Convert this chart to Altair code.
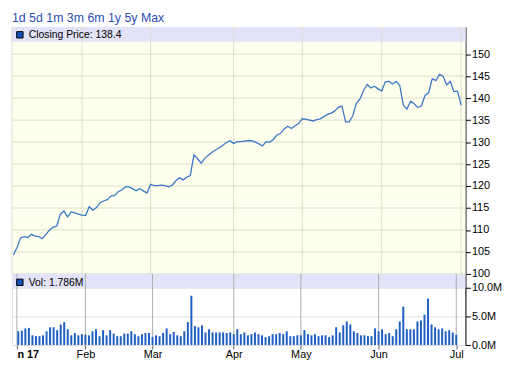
import altair as alt
import pandas as pd

# ---- data ----
price = [
    104.3, 106.0, 108.2, 108.5, 108.3, 109.0, 108.6, 108.5, 108.0, 109.0,
    110.0, 110.6, 110.9, 113.6, 114.3, 113.0, 114.1, 113.9, 113.6, 113.4,
    113.3, 115.3, 114.5, 115.1, 116.2, 116.6, 116.9, 117.7, 117.8, 118.7,
    119.1, 119.8, 119.8, 119.4, 118.9, 119.4, 118.9, 118.4, 120.4, 120.1,
    120.1, 120.2, 120.1, 119.8, 120.2, 121.2, 121.9, 121.4, 122.0, 122.4,
    127.1, 126.2, 125.2, 126.3, 127.0, 127.7, 128.2, 128.7, 129.3, 129.9,
    130.3, 129.7, 130.1, 130.1, 130.2, 130.3, 130.3, 130.0, 129.6, 129.1,
    130.1, 130.0, 130.6, 131.6, 132.0, 133.0, 133.6, 133.1, 133.7, 134.2,
    135.3, 135.2, 135.0, 134.8, 135.1, 135.3, 135.8, 136.3, 136.6, 137.1,
    137.9, 138.2, 134.6, 134.6, 136.0, 138.8, 139.8, 141.8, 143.1, 142.3,
    142.7, 142.1, 141.6, 143.7, 143.8, 143.2, 143.8, 142.9, 138.4, 137.5,
    139.3, 138.7, 137.9, 138.2, 140.6, 141.2, 144.4, 144.0, 145.4, 145.0,
    143.0, 143.8, 141.5, 141.6, 138.4,
]
volume_m = [
    2.4, 2.5, 2.9, 3.0, 1.7, 1.55, 1.55, 1.7, 2.4, 3.1,
    3.1, 2.6, 3.6, 4.0, 2.75, 1.7, 2.1, 1.7, 1.9, 1.8,
    1.7, 2.4, 2.75, 1.55, 2.6, 1.7, 2.6, 2.0, 1.55, 1.55,
    2.0, 2.0, 2.4, 1.9, 1.55, 1.9, 2.1, 2.1, 1.4, 1.7,
    1.55, 2.1, 2.9, 1.9, 2.3, 1.7, 1.55, 2.4, 4.0, 8.6,
    3.3, 3.1, 3.45, 2.2, 2.75, 2.2, 2.2, 2.2, 2.2, 2.1,
    2.2, 1.9, 2.75, 1.9, 2.2, 1.7, 1.9, 2.2, 1.9, 1.7,
    1.4, 1.55, 1.9, 1.9, 2.1, 1.9, 2.4, 1.55, 1.55, 1.7,
    1.7, 2.6, 1.9, 1.7, 1.9, 1.55, 1.7, 1.7, 1.4, 1.7,
    3.1, 2.2, 3.45, 4.1, 3.6, 2.4, 2.1, 1.7, 1.7, 1.55,
    1.55, 2.9, 2.4, 2.75, 1.9, 2.1, 1.55, 2.75, 4.1, 6.7,
    2.75, 2.75, 2.75, 4.1, 4.3, 5.3, 8.1, 3.6, 3.1, 2.75,
    2.9, 2.4, 2.6, 2.2, 1.786,
]
day_index = list(range(1, len(price) + 1))

month_labels = ["n 17", "Feb", "Mar", "Apr", "May", "Jun", "Jul"]
month_pos = [0.6, 20, 39, 62, 81, 103, 125]
price_ticks = [100, 105, 110, 115, 120, 125, 130, 135, 140, 145, 150]
vol_ticks = [0, 5, 10]
range_links = "1d 5d 1m 3m 6m 1y 5y Max"

df = pd.DataFrame({"i": day_index, "price": price, "vol": volume_m})
months = pd.DataFrame({"pos": month_pos, "label": month_labels})
one = pd.DataFrame({"a": [0]})

W, H1, H2 = 459, 250, 72
XDOM = [0.6, 126.2]
FONT = "Liberation Sans"

parts = []
for k in range(len(month_pos) - 1):
    mid = (month_pos[k] + month_pos[k + 1]) / 2
    parts.append(f"datum.value < {mid} ? '{month_labels[k]}' : ")
label_expr = "".join(parts) + f"'{month_labels[-1]}'"

xscale = alt.Scale(domain=XDOM, nice=False, zero=False)
pscale = alt.Scale(domain=[100, 156.2], nice=False, zero=False)
paxis = alt.Axis(
    orient="right", values=price_ticks, grid=False,
    tickColor="black", domainColor="black", tickSize=5, labelPadding=1,
    title=None, labelColor="black", labelFontSize=11, labelFont=FONT,
)

# ---- price panel ----
bg1 = alt.Chart(one).mark_rect(color="#ffffee").encode(
    x=alt.value(0), x2=alt.value(W), y=alt.value(0), y2=alt.value(H1)
)
hgrid1 = alt.Chart(pd.DataFrame({"p": price_ticks})).mark_rule(
    color="#dcdccb", strokeWidth=1
).encode(y=alt.Y("p:Q", scale=pscale, axis=paxis))
band1 = alt.Chart(one).mark_rect(color="#e2e2f8").encode(
    x=alt.value(0), x2=alt.value(W), y=alt.value(0), y2=alt.value(15)
)
vgrid1 = alt.Chart(months).mark_rule(color="#dcdccb", strokeWidth=1).encode(
    x=alt.X("pos:Q", scale=xscale, axis=None)
)
line = alt.Chart(df).mark_line(color="#3a78c8", strokeWidth=1.3, clip=True).encode(
    x=alt.X("i:Q", scale=xscale, axis=None),
    y=alt.Y("price:Q", scale=pscale, axis=paxis),
)
leg1_sq = alt.Chart(one).mark_point(
    shape="square", filled=True, size=42, fill="#1450b8", stroke="black",
    strokeWidth=1, opacity=1,
).encode(x=alt.value(8), y=alt.value(8))
leg1_tx = alt.Chart(one).mark_text(
    align="left", baseline="middle", fontSize=10.5, font=FONT, color="black"
).encode(x=alt.value(17), y=alt.value(8.5), text=alt.value(f"Closing Price: {price[-1]}"))
links = alt.Chart(one).mark_text(
    align="left", baseline="top", fontSize=12.5, font=FONT, color="#2a4fb0"
).encode(x=alt.value(0), y=alt.value(-15), text=alt.value(range_links))

price_chart = alt.layer(
    bg1, hgrid1, band1, vgrid1, line, leg1_sq, leg1_tx, links
).properties(width=W, height=H1)

# ---- volume panel ----
band2 = alt.Chart(one).mark_rect(color="#e2e2f8").encode(
    x=alt.value(0), x2=alt.value(W), y=alt.value(0), y2=alt.value(14)
)
vgrid2 = alt.Chart(months).mark_rule(color="#a9b1b1", strokeWidth=1).encode(
    x=alt.X(
        "pos:Q", scale=xscale,
        axis=alt.Axis(
            values=month_pos, labelExpr=label_expr, grid=False, ticks=True,
            tickSize=4, tickColor="#606060", domain=False, labelColor="black",
            labelFontSize=11, labelFont=FONT, labelPadding=0, title=None,
            labelFlush=False,
            labelAlign=alt.condition("datum.value < 10", alt.value("left"), alt.value("center")),
            labelFontWeight=alt.condition("datum.value < 10", alt.value("bold"), alt.value("normal")),
        ),
    )
)
bars = alt.Chart(df).mark_bar(size=2, color="#1f5fc4").encode(
    x=alt.X("i:Q", scale=xscale),
    y=alt.Y(
        "vol:Q",
        scale=alt.Scale(domain=[0, 12.4], nice=False),
        axis=alt.Axis(
            orient="right", values=vol_ticks,
            labelExpr="format(datum.value, '.1f') + 'M'",
            grid=True, gridColor="#e2e2e2", tickColor="black", domainColor="black",
            tickSize=5, labelPadding=1, title=None, labelColor="black",
            labelFontSize=11, labelFont=FONT,
        ),
    ),
)
leg2_sq = alt.Chart(one).mark_point(
    shape="square", filled=True, size=42, fill="#1450b8", stroke="black",
    strokeWidth=1, opacity=1,
).encode(x=alt.value(8), y=alt.value(8.5))
leg2_tx = alt.Chart(one).mark_text(
    align="left", baseline="middle", fontSize=10.5, font=FONT, color="black"
).encode(x=alt.value(17), y=alt.value(9), text=alt.value(f"Vol: {volume_m[-1]}M"))

vol_chart = alt.layer(band2, vgrid2, bars, leg2_sq, leg2_tx).properties(
    width=W, height=H2
)

chart = (
    alt.vconcat(price_chart, vol_chart, spacing=0, bounds="flush")
    .resolve_scale(y="independent")
    .properties(padding={"left": 3, "top": 1, "right": 0, "bottom": 0})
    .configure_view(stroke="black", strokeWidth=1)
    .configure(font=FONT)
)

chart.save("out.html", embed_options={"renderer": "svg", "actions": False})
